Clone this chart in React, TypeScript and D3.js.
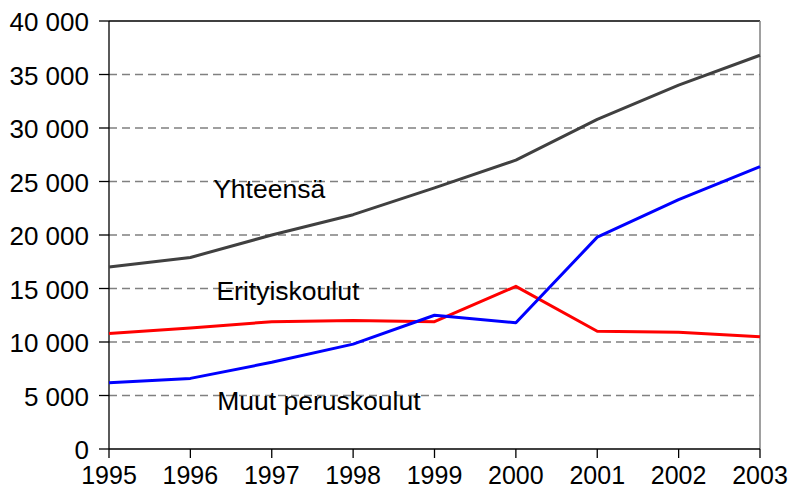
import * as d3 from 'd3';

const years = [1995, 1996, 1997, 1998, 1999, 2000, 2001, 2002, 2003];
const yhteensa = [17000, 17900, 20000, 21900, 24400, 27000, 30800, 34000, 36800];
const erityiskoulut = [10800, 11300, 11900, 12000, 11900, 15200, 11000, 10900, 10500];
const muutPeruskoulut = [6200, 6600, 8100, 9800, 12500, 11800, 19800, 23300, 26400];
const yTicks = [0, 5000, 10000, 15000, 20000, 25000, 30000, 35000, 40000];

const seriesLabels = [
  { name: 'Yhteensä', values: yhteensa, color: '#404040', lx: 1996.28, ly: 23430 },
  { name: 'Erityiskoulut', values: erityiskoulut, color: '#ff0000', lx: 1996.32, ly: 13930 },
  { name: 'Muut peruskoulut', values: muutPeruskoulut, color: '#0000ff', lx: 1996.33, ly: 3650 },
];

export default function App() {
  const width = 791;
  const height = 490;
  const left = 109;
  const right = 760;
  const top = 21;
  const bottom = 449;

  const x = d3.scaleLinear().domain([1995, 2003]).range([left, right]);
  const y = d3.scaleLinear().domain([0, 40000]).range([bottom, top]);
  const fmt = (v: number) => d3.format(',')(v).replace(/,/g, ' ');

  const line = d3
    .line<number>()
    .x((_, i) => x(years[i]))
    .y((d) => y(d));

  const font = 'Arial, "Liberation Sans", sans-serif';

  return (
    <svg
      width={width}
      height={height}
      style={{ position: 'absolute', left: 0, top: 0 }}
    >
      <rect width={width} height={height} fill='#fff' />
      {yTicks.slice(1, -1).map((t) => (
        <line
          key={'g' + t}
          x1={left}
          x2={right}
          y1={y(t)}
          y2={y(t)}
          stroke='#808080'
          strokeWidth={1.3}
          strokeDasharray='8 5'
        />
      ))}
      <line x1={left} x2={right} y1={top} y2={top} stroke='#000' strokeWidth={1.3} />
      <line x1={right} x2={right} y1={top} y2={bottom} stroke='#808080' strokeWidth={1.5} />
      <line x1={left} x2={left} y1={top} y2={bottom} stroke='#000' strokeWidth={1.3} />
      <line x1={left} x2={right} y1={bottom} y2={bottom} stroke='#000' strokeWidth={1.3} />
      {yTicks.map((t) => (
        <g key={'y' + t}>
          <line x1={left - 10} x2={left} y1={y(t)} y2={y(t)} stroke='#000' strokeWidth={1.3} />
          <text
            x={89}
            y={y(t) + 10}
            textAnchor='end'
            fontFamily={font}
            fontSize={26}
            fill='#000'
          >
            {fmt(t)}
          </text>
        </g>
      ))}
      {years.map((yr) => (
        <g key={'x' + yr}>
          <line x1={x(yr)} x2={x(yr)} y1={bottom} y2={bottom + 9} stroke='#000' strokeWidth={1.3} />
          <text
            x={x(yr)}
            y={484}
            textAnchor='middle'
            fontFamily={font}
            fontSize={25}
            fill='#000'
          >
            {yr}
          </text>
        </g>
      ))}
      {seriesLabels.map((s) => (
        <path
          key={'l' + s.name}
          d={line(s.values) || ''}
          fill='none'
          stroke={s.color}
          strokeWidth={3}
          strokeLinejoin='round'
        />
      ))}
      {seriesLabels.map((s) => (
        <text
          key={'t' + s.name}
          x={x(s.lx)}
          y={y(s.ly)}
          fontFamily={font}
          fontSize={26.5}
          fill='#000'
        >
          {s.name}
        </text>
      ))}
    </svg>
  );
}
